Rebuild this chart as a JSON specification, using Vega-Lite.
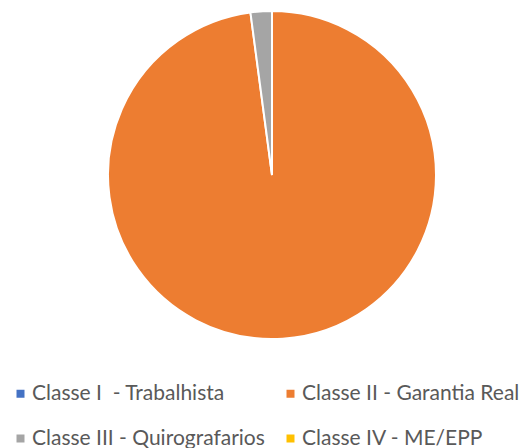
{
  "$schema": "https://vega.github.io/schema/vega-lite/v6.json",
  "width": 532,
  "height": 350,
  "autosize": {"type": "none"},
  "padding": {"left": 6, "top": 0, "right": 0, "bottom": 98},
  "background": "white",
  "view": {"stroke": null},
  "data": {
    "values": [
      {"classe": "Classe I\u00a0 - Trabalhista", "valor": 0, "ordem": 1},
      {"classe": "Classe II - Garantia Real", "valor": 97.9, "ordem": 2},
      {"classe": "Classe III - Quirografarios", "valor": 2.1, "ordem": 3},
      {"classe": "Classe IV - ME/EPP", "valor": 0, "ordem": 4}
    ]
  },
  "mark": {"type": "arc", "outerRadius": 164, "stroke": "white", "strokeWidth": 2},
  "encoding": {
    "theta": {"field": "valor", "type": "quantitative", "stack": true},
    "order": {"field": "ordem", "type": "quantitative", "sort": "ascending"},
    "color": {
      "field": "classe",
      "type": "nominal",
      "sort": ["Classe I\u00a0 - Trabalhista", "Classe II - Garantia Real", "Classe III - Quirografarios", "Classe IV - ME/EPP"],
      "scale": {
        "domain": ["Classe I\u00a0 - Trabalhista", "Classe II - Garantia Real", "Classe III - Quirografarios", "Classe IV - ME/EPP"],
        "range": ["#4472C4", "#ED7D31", "#A5A5A5", "#FFC000"]
      },
      "legend": {
        "title": null,
        "orient": "none",
        "legendX": 4,
        "legendY": 383,
        "direction": "horizontal",
        "columns": 2,
        "columnPadding": 15,
        "rowPadding": 23,
        "symbolType": "square",
        "symbolSize": 64,
        "symbolStrokeWidth": 0,
        "symbolOffset": 0,
        "labelFont": "Lato",
        "labelFontSize": 21,
        "labelColor": "#595959",
        "labelOffset": 1,
        "labelLimit": 400
      }
    }
  }
}
